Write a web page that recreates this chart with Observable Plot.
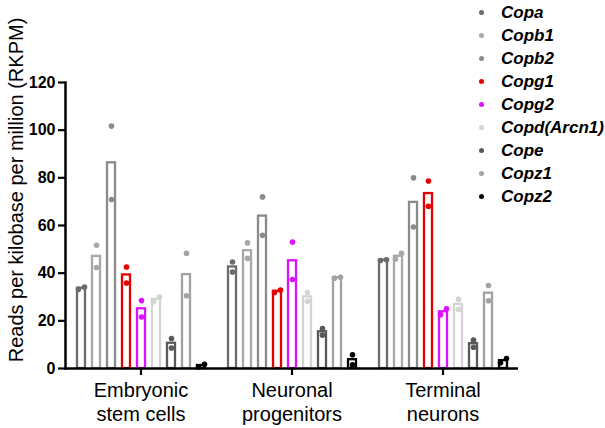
<!DOCTYPE html>
<html><head><meta charset="utf-8">
<script src="https://cdn.jsdelivr.net/npm/d3@7"></script>
<script src="https://cdn.jsdelivr.net/npm/@observablehq/plot@0.6"></script>
<style>
body{margin:0;background:#fff;}
#chart{position:relative;width:605px;height:428px;font-family:"Liberation Sans",Arial,sans-serif;}
#legend{position:absolute;left:479px;top:1px;}
.row{height:23px;display:flex;align-items:center;font:bold italic 17px "Liberation Sans",Arial,sans-serif;color:#000;white-space:nowrap;}
.dot{width:5px;height:5px;border-radius:50%;margin-right:17px;flex:none;}
g[aria-label="y-axis tick label"]{font-weight:bold;font-size:16px;}
g[aria-label="y-axis tick"]{stroke-width:2.2px;}
g[aria-label="fx-axis tick"]{stroke-width:2.2px;}
g[aria-label="frame"]{stroke-width:2.5px;}
</style></head><body><div id="chart"><div id="legend"></div></div>
<script>
const groups = ["Embryonic stem cells", "Neuronal progenitors", "Terminal neurons"];
const groupLabels = ["Embryonic\nstem cells", "Neuronal\nprogenitors", "Terminal\nneurons"];
const genes = ["Copa", "Copb1", "Copb2", "Copg1", "Copg2", "Copd(Arcn1)", "Cope", "Copz1", "Copz2"];
const geneColors = ["#6b6b6b", "#a8a8a8", "#8a8a8a", "#e60000", "#dd11ff", "#d4d4d4", "#595959", "#a2a2a2", "#000000"];
const yTicks = [0, 20, 40, 60, 80, 100, 120];

// two replicate values per gene, per cell type
const esRep1 = [33.2, 51.7, 101.7, 42.6, 28.5, 28.0, 12.6, 48.3, 0.7];
const esRep2 = [34.2, 42.4, 70.9, 35.9, 21.6, 30.0, 8.6, 30.5, 1.8];
const npRep1 = [44.7, 52.7, 72.0, 31.9, 53.1, 28.2, 16.8, 37.9, 5.8];
const npRep2 = [40.5, 46.2, 55.9, 32.9, 37.3, 31.9, 14.0, 38.3, 1.6];
const tnRep1 = [45.3, 45.9, 80.0, 78.7, 22.6, 29.0, 11.9, 34.8, 2.4];
const tnRep2 = [45.6, 48.3, 59.4, 68.1, 25.0, 24.8, 8.9, 28.4, 4.2];

const reps = [[esRep1, esRep2], [npRep1, npRep2], [tnRep1, tnRep2]];
const table = [];
const points = [];
groups.forEach((g, gi) => {
  genes.forEach((gene, i) => {
    const a = reps[gi][0][i], b = reps[gi][1][i];
    table.push({group: g, gene, mean: (a + b) / 2});
    const close = Math.abs(a - b) < 2.6;
    const lo = Math.min(a, b), hi = Math.max(a, b);
    points.push({group: g, gene, v: lo, side: close ? "L" : "C"});
    points.push({group: g, gene, v: hi, side: close ? "R" : "C"});
  });
});

const dotOpts = {fx: "group", x: "gene", y: "v", fill: "gene", r: 2.8};
const plot = Plot.plot({
  width: 605,
  height: 428,
  marginLeft: 64,
  marginRight: 87,
  marginTop: 82,
  marginBottom: 60,
  style: {fontFamily: "Liberation Sans, Arial, sans-serif", fontSize: "16px", color: "#000", background: "#fff"},
  fx: {domain: groups, padding: 0, label: null},
  x: {domain: genes, paddingInner: 0.5, paddingOuter: 0.6, axis: null},
  y: {domain: [0, 120], ticks: yTicks, tickSize: 7, tickPadding: 3, line: true, label: null},
  color: {domain: genes, range: geneColors},
  marks: [
    Plot.barY(table, {fx: "group", x: "gene", y: "mean", fill: "white", stroke: "gene", strokeWidth: 2.3}),
    Plot.dot(points.filter(d => d.side === "C"), dotOpts),
    Plot.dot(points.filter(d => d.side === "L"), {...dotOpts, dx: -3}),
    Plot.dot(points.filter(d => d.side === "R"), {...dotOpts, dx: 3}),
    Plot.ruleY([0], {stroke: "black", strokeWidth: 2.5}),
    Plot.axisFx({anchor: "bottom", tickSize: 7, tickPadding: 4, fontSize: 20, lineHeight: 1.2,
      tickFormat: d => groupLabels[groups.indexOf(d)], label: null})
  ]
});
document.getElementById("chart").appendChild(plot);

d3.select(plot).append("text")
  .attr("transform", "translate(16,190) rotate(-90)")
  .attr("text-anchor", "middle")
  .attr("dominant-baseline", "central")
  .attr("font-size", 20)
  .attr("fill", "#000")
  .text("Reads per kilobase per million (RKPM)");

const legend = d3.select("#legend");
genes.forEach((g, i) => {
  const row = legend.append("div").attr("class", "row");
  row.append("span").attr("class", "dot").style("background", geneColors[i]);
  row.append("span").text(g);
});
</script></body></html>
